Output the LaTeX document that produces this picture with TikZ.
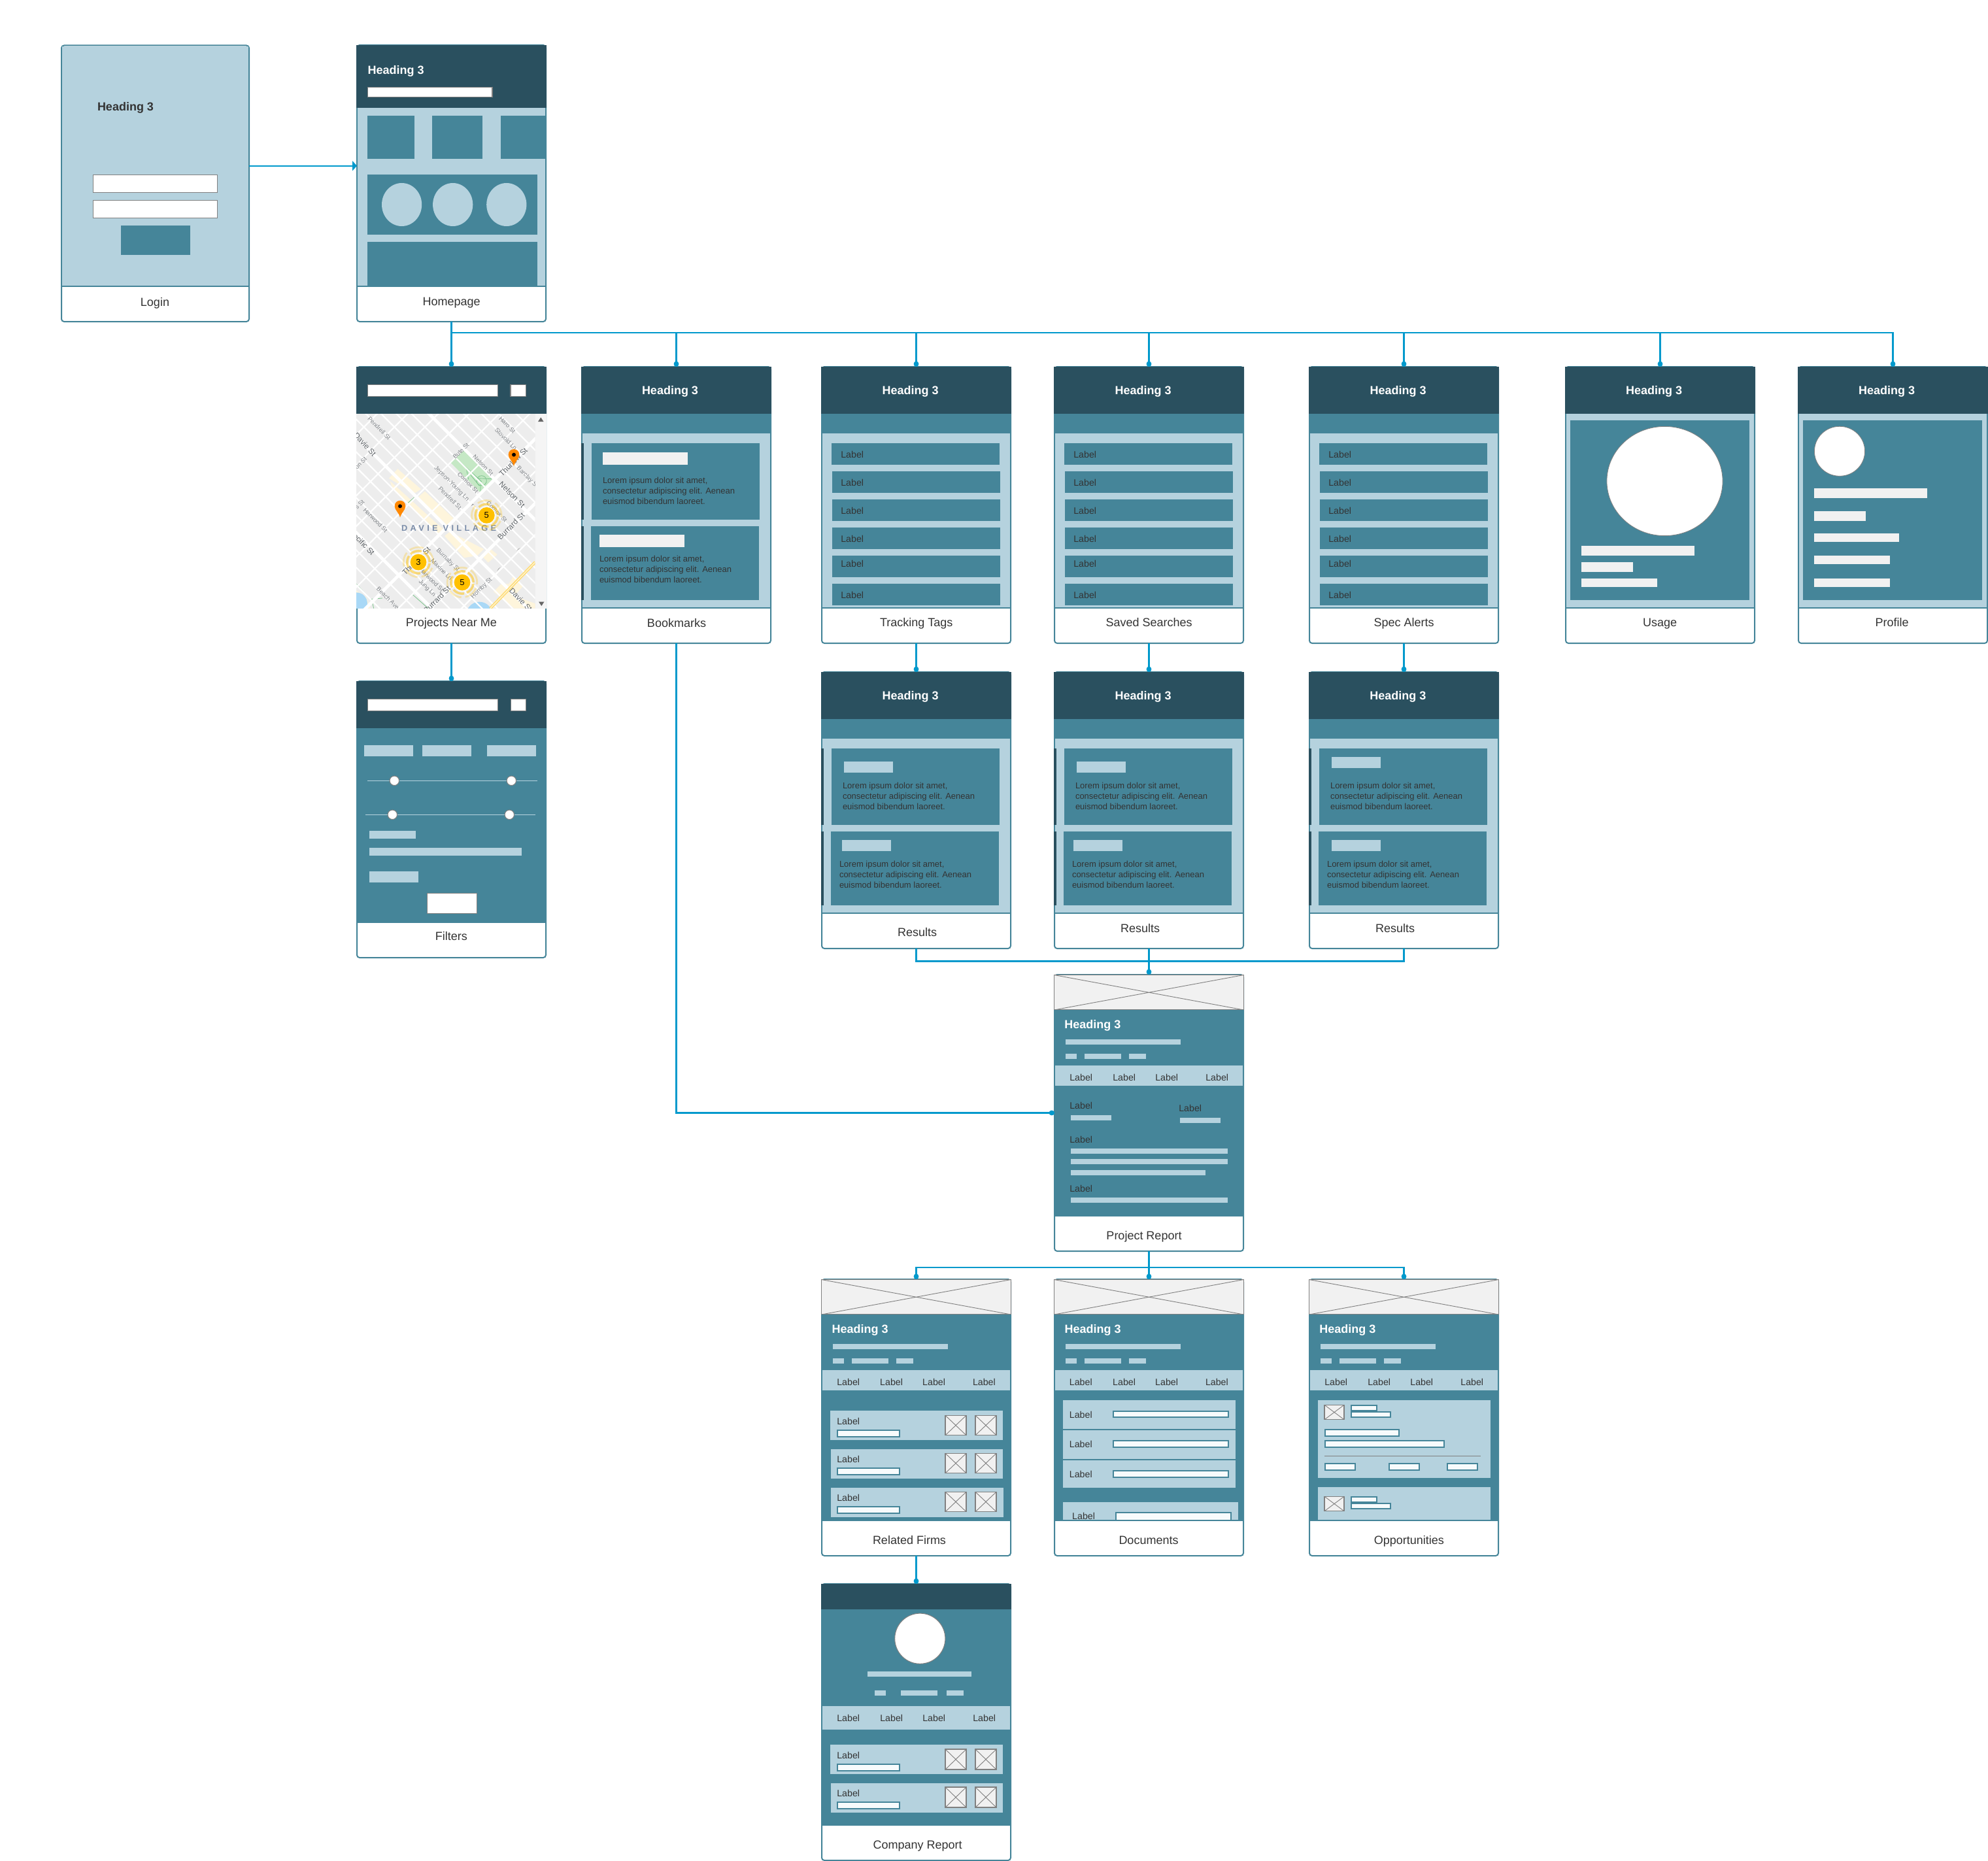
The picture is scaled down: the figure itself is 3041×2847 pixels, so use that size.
\documentclass[tikz,border=0pt]{standalone}
\usepackage{fontspec}
\setmainfont{Liberation Sans}
\newfontfamily\mapcapfont[LetterSpace=34]{Liberation Sans}
\usetikzlibrary{arrows.meta}
\definecolor{cdark}{HTML}{2A505F}
\definecolor{cmid}{HTML}{458599}
\definecolor{clight}{HTML}{B5D2DE}
\definecolor{cbar}{HTML}{F1F1F1}
\definecolor{cfield}{HTML}{F7FBFC}
\definecolor{cgray}{HTML}{808080}
\definecolor{ctext}{HTML}{333333}
\definecolor{cconn}{HTML}{0099CC}
\definecolor{cmapbg}{HTML}{EDEDED}
\definecolor{cyellow}{HTML}{FEF5DC}
\definecolor{cpark}{HTML}{C5E8C5}
\definecolor{cpath}{HTML}{7CC48C}
\definecolor{cwater}{HTML}{A9D8F6}
\definecolor{cpin}{HTML}{FF8800}
\definecolor{ccluster}{HTML}{FFC000}
\definecolor{cstreet}{HTML}{808488}
\definecolor{cstreetd}{HTML}{5F6468}
\definecolor{cvillage}{HTML}{7A8CA8}
\tikzset{
  fdark/.style={fill=cdark,draw=none},
  fmid/.style={fill=cmid,draw=none},
  flight/.style={fill=clight,draw=none},
  fbar/.style={fill=cbar,draw=none},
  fwhite/.style={fill=white,draw=none},
  framebox/.style={draw=cmid,line width=1pt,fill=white,rounded corners=2pt,inner sep=0pt,outer sep=0pt},
  capt/.style={font=\fontsize{9}{11}\selectfont,text=ctext,inner sep=0pt,outer sep=0pt},
  lbl/.style={font=\fontsize{7.1}{8.5}\selectfont,text=ctext,inner sep=0pt,outer sep=0pt},
  hdw/.style={font=\bfseries\fontsize{9}{11}\selectfont,text=white,inner sep=0pt,outer sep=0pt,yshift=-1pt},
  hdd/.style={font=\bfseries\fontsize{9}{11}\selectfont,text=ctext,inner sep=0pt,outer sep=0pt,yshift=-1pt},
  loremtxt/.style={font=\fontsize{6.5}{8}\selectfont,text=ctext,inner sep=0pt,outer sep=0pt,align=left,anchor=west},
  inputbox/.style={fill=white,draw=cgray,line width=0.6pt},
  fieldbox/.style={fill=cfield,draw=cmid,line width=1.1pt},
  imgph/.style={fill=cbar,draw=cgray,line width=0.55pt},
  imgline/.style={draw=cgray,line width=0.45pt},
  slidertrack/.style={draw=clight,line width=0.6pt},
  sliderknob/.style={fill=white,draw=cgray,line width=0.5pt},
  conn/.style={draw=cconn,line width=1.05pt},
  connd/.style={conn,-{Circle[length=4.2pt,width=3.8pt]}},
  conna/.style={conn,-{Triangle[length=3.5pt,width=7.5pt]}},
  minorroad/.style={draw=white,line width=1.1pt},
  majorroad/.style={draw=white,line width=2.4pt},
  st/.style={font=\fontsize{4.6}{5}\selectfont,text=cstreet,inner sep=0pt,outer sep=0pt},
  std/.style={font=\fontsize{5.8}{6}\selectfont,text=cstreetd,inner sep=0pt,outer sep=0pt},
  clnum/.style={font=\fontsize{6.5}{8}\selectfont,text=black,inner sep=0pt,outer sep=0pt},
  pinbody/.style={fill=cpin,draw=none},
}
\newcounter{tnc}
\newcommand{\tn}[4][capt]{\stepcounter{tnc}\node[#1] (t\arabic{tnc}) at (#2,#3) {#4};}
\newcommand{\rbox}[5]{\path[#1] (#2,#3) rectangle (#4,#5);}
\newcommand{\scr}[8]{\pgfmathsetmacro{\scrw}{(#4-#2-2)*0.5}\pgfmathsetmacro{\scrh}{(#5-#3-1)*0.5}%
  \node[framebox,minimum width=\scrw pt,minimum height=\scrh pt] (#1) at ({(#2+#4)/2},{(#3+#5-1)/2}) {};%
  \tn{#6}{#7}{#8}}
\newcommand{\imgx}[4]{\path[imgph] (#1,#2) rectangle (#3,#4);\draw[imgline] (#1,#2) -- (#3,#4) (#1,#4) -- (#3,#2);}
\newcommand{\inp}[4]{\path[inputbox] (#1,#2) rectangle (#3,#4);}
\newcommand{\fld}[4]{\path[fieldbox] (#1+1,#2+1) rectangle (#3-1,#4-1);}
\newcommand{\lorem}[2]{\tn[loremtxt]{#1}{#2}{Lorem ipsum dolor sit amet,\\consectetur adipiscing elit. Aenean\\euismod bibendum laoreet.}}
\newcommand{\tabsrow}[9]{\rbox{flight}{#4}{#1}{#5}{#2}\tn[lbl]{#6}{#3}{Label}\tn[lbl]{#7}{#3}{Label}\tn[lbl]{#8}{#3}{Label}\tn[lbl]{#9}{#3}{Label}}
% list screen, drawn at the Tracking Tags position; shifted by a scope
\newcommand{\listscreen}[4]{%
  \begin{scope}[shift={(#2,0)}]
  \scr{#1}{1256}{561}{1547}{985}{1401.7}{#4}{#3}
  \rbox{fdark}{1256}{561}{1547}{633}
  \rbox{fmid}{1256}{633}{1547}{663}
  \rbox{flight}{1258}{663}{1545}{929}
  \rbox{fmid}{1256}{929}{1547}{931}
  \tn[hdw]{1392.5}{596.7}{Heading 3}
  \rbox{fmid}{1272}{678}{1529}{711}
  \rbox{fmid}{1273}{721}{1530}{754}
  \rbox{fmid}{1273}{764}{1530}{797}
  \rbox{fmid}{1273}{807}{1530}{840}
  \rbox{fmid}{1273}{850}{1530}{883}
  \rbox{fmid}{1273}{893}{1530}{926}
  \tn[lbl]{1303.7}{695.3}{Label}
  \tn[lbl]{1303.7}{738.3}{Label}
  \tn[lbl]{1303.7}{781.3}{Label}
  \tn[lbl]{1303.7}{824.3}{Label}
  \tn[lbl]{1303.7}{862.3}{Label}
  \tn[lbl]{1303.7}{910.3}{Label}
  \end{scope}}
% results screen base
\newcommand{\resbase}[5]{%
  \scr{#1}{#2}{1028}{#2+291}{1452}{#4}{#5}{Results}
  \rbox{fdark}{#2}{1028}{#2+291}{1100}
  \rbox{fmid}{#2}{1100}{#2+291}{1130}
  \rbox{flight}{#2+2}{1130}{#2+289}{1396}
  \rbox{fmid}{#2}{1396}{#2+291}{1398}
  \rbox{fdark}{#2}{1145}{#2+4}{1262}
  \rbox{fdark}{#2}{1272}{#2+4}{1385}
  \tn[hdw]{#3}{1063.7}{Heading 3}}
\begin{document}
\begin{tikzpicture}[x=0.5pt,y=-0.5pt]
\useasboundingbox[fill=white] (0,0) rectangle (3041,2847);

% ---- Login
\scr{login}{93}{69.5}{382}{493}{237}{463.7}{Login}
\rbox{flight}{95}{71.5}{380}{437}
\rbox{fmid}{93}{437}{382}{439}
\tn[hdd,anchor=west]{149}{162.7}{Heading 3}
\inp{142.6}{267.3}{332.5}{294.3}
\inp{142.6}{306.3}{332.5}{333.7}
\rbox{fmid}{185}{345}{291}{390}

% ---- Homepage
\scr{home}{545}{69}{836}{493}{690.6}{463}{Homepage}
\rbox{fdark}{545}{69}{836}{165}
\rbox{flight}{547}{165}{834}{437}
\rbox{fmid}{545}{437}{836}{439}
\tn[hdw,anchor=west]{562.5}{106.7}{Heading 3}
\inp{562.5}{133.3}{753}{148.7}
\rbox{fmid}{562}{177}{634}{243}
\rbox{fmid}{661}{177}{738}{243}
\rbox{fmid}{766}{177}{834.5}{243}
\rbox{fmid}{562}{267}{822}{359}
\fill[clight] (614.6,313) ellipse [x radius=15.3pt,y radius=16.5pt];
\fill[clight] (692.7,313) ellipse [x radius=15.3pt,y radius=16.5pt];
\fill[clight] (774.8,313) ellipse [x radius=15.3pt,y radius=16.5pt];
\rbox{fmid}{562}{370}{822}{437}

% ---- Projects Near Me
\scr{projects}{545}{561}{836}{985}{690.5}{953.7}{Projects Near Me}
\rbox{fdark}{545}{561}{836}{633}
\inp{562.5}{588.3}{761.6}{606.7}
\inp{781}{588.3}{804.5}{606.7}
\rbox{fill=cmapbg,draw=none}{545}{633}{819}{931}
\rbox{fill=white!96!black,draw=none}{819}{633}{836}{931}
\fill[black!60] (823,645) -- (831.5,645) -- (827.3,638.5) -- cycle;
\fill[black!60] (824,920.5) -- (832.5,920.5) -- (828.3,927) -- cycle;
\begin{scope}[shift={(540,630)},x=0.16667pt,y=-0.16667pt]
  \clip (15,10) rectangle (836,902);
  \fill[cyellow] (165,305) -- (205,262) -- (312,355) -- (285,372) -- (240,350) -- cycle;
  \fill[cyellow] (330,365) -- (462,490) -- (430,520) -- (300,390) -- cycle;
  \fill[cyellow] (170,318) -- (200,345) -- (415,540) -- (395,560) -- (180,350) -- cycle;
  \fill[cyellow] (420,570) -- (445,550) -- (600,630) -- (570,660) -- (510,670) -- cycle;
  \fill[cyellow] (595,665) -- (635,632) -- (662,655) -- (620,692) -- cycle;
  \fill[cyellow] (645,825) -- (680,790) -- (715,790) -- (735,755) -- (780,800) -- (740,845) -- (836,880) -- (836,902) -- (740,902) -- cycle;
  \fill[cyellow] (15,820) -- (60,850) -- (80,902) -- (15,902) -- cycle;
  \fill[cwater] (15,880) circle[radius=8.5pt];
  \fill[cwater] (580,932) circle[radius=10pt];
  \fill[cpark] (510,175) -- (648,305) -- (585,372) -- (445,230) -- cycle;
  \draw[cpath,line width=0.4pt] (475,215) -- (590,320) (520,260) -- (530,310) (540,290) -- (580,340) (570,305) -- (640,308) (585,320) -- (585,370);
  \draw[cpath,line width=0.4pt] (590,316) circle[radius=3.8pt];
  \draw[cpath,line width=0.4pt] (15,790) -- (80,860) -- (135,855) (85,860) -- (95,902) (275,840) -- (345,902) (250,420) -- (282,392);
  \foreach \c in {-740,-660,-580,-500,-420,-260,-190,-120,-50,20,170,240,310,380,460,620,700,780}
    {\draw[minorroad] ({0},{\c}) -- ({1000},{\c+1000});}
  \foreach \c in {120,260,400,540,680,820,1110,1400}
    {\draw[minorroad] ({0},{\c}) -- ({\c},{0});}
  \foreach \c in {-340,100,540}
    {\draw[majorroad] ({0},{\c}) -- ({1000},{\c+1000});}
  \foreach \c in {960,1256}
    {\draw[majorroad] ({0},{\c}) -- ({\c},{0});}
  \draw[draw=ccluster!55!white,line width=2.2pt] (836,690) -- (630,902);
  \draw[draw=cyellow,line width=0.6pt] (836,690) -- (630,902);
  \tn[st,rotate=-45]{120}{75}{Pendrell St}
  \tn[std,rotate=-48]{55}{150}{Davie St}
  \tn[st,rotate=45]{495}{180}{Bute St}
  \tn[st,rotate=-45]{708}{60}{Haro St}
  \tn[st,rotate=-45]{702}{125}{Stovold Ln}
  \tn[st,rotate=-45]{597}{245}{Nelson St}
  \tn[std,rotate=45]{735}{230}{Thurlow St}
  \tn[st,rotate=-45]{800}{300}{Barclay St}
  \tn[st,rotate=-45]{527}{325}{Comox St}
  \tn[st,rotate=-45]{452}{330}{Jepson-Young Ln}
  \tn[st,rotate=-45]{445}{395}{Pendrell St}
  \tn[std,rotate=-45]{730}{380}{Nelson St}
  \tn[st,rotate=-45]{660}{458}{Comox St}
  \tn[std,rotate=45]{725}{525}{Burrard St}
  \tn[st,rotate=-45]{103}{497}{Harwood St}
  \tn[std,rotate=-45]{42}{600}{Pacific St}
  \tn[st,rotate=-45]{435}{680}{Burnaby St}
  \tn[st,rotate=-45]{407}{723}{Maxine Ln}
  \tn[st,rotate=-45]{360}{770}{Harwood St}
  \tn[st,rotate=-45]{340}{810}{Jung Ln}
  \tn[std,rotate=45]{290}{685}{Thurlow St}
  \tn[st,rotate=-45]{160}{855}{Beach Ave}
  \tn[std,rotate=45]{385}{862}{Burrard St}
  \tn[st,rotate=45]{590}{810}{Hornby St}
  \tn[std,rotate=-45]{770}{862}{Davie St}
  \tn[st,rotate=45]{35}{235}{on St}
  \tn[st,rotate=45]{30}{425}{s St}
  \tn[font=\mapcapfont\bfseries\fontsize{6.4}{8}\selectfont,text=cvillage,inner sep=0pt,outer sep=0pt]{440}{533}{DAVIE VILLAGE}
  \fill[black!35] (548,422) -- (542,432) -- (556,426) -- cycle;
  \fill[black!35] (757,630) -- (750,640) -- (768,624) -- cycle;
  \fill[black!35] (667,720) -- (660,732) -- (678,712) -- cycle;
  % clusters
  \foreach \cx/\cy/\nn in {613/475/5,300/690/3,501/783/5}{
    \begin{scope}[shift={(\cx,\cy)}]
    \draw[ccluster,opacity=.5,line width=1.7pt,dash pattern=on 9pt off 2pt] (0,0) circle[radius=8.6pt];
    \draw[ccluster,opacity=.25,line width=1.4pt,dash pattern=on 11pt off 3pt] (0,0) circle[radius=11.4pt];
    \fill[white] (0,0) circle[radius=6.8pt];
    \fill[ccluster] (0,0) circle[radius=6.2pt];
    \tn[clnum]{0}{0}{\nn}
    \end{scope}}
  % pins
  \foreach \px/\py in {738/197,216/433}{
    \begin{scope}[shift={(\px,\py)}]
    \path[pinbody] (0,52) .. controls (-6,28) and (-25,18) .. (-25,0) .. controls (-25,-34) and (25,-34) .. (25,0) .. controls (25,18) and (6,28) .. (0,52) -- cycle;
    \fill[black] (0,0) circle[radius=1.5pt];
    \end{scope}}
\end{scope}

% ---- Bookmarks
\scr{book}{889}{561}{1180}{985}{1035}{952.7}{Bookmarks}
\rbox{fdark}{889}{561}{1180}{633}
\rbox{fmid}{889}{633}{1180}{663}
\rbox{flight}{891}{663}{1178}{929}
\rbox{fmid}{889}{929}{1180}{931}
\rbox{fdark}{889}{678}{893}{795}
\rbox{fdark}{889}{805}{893}{918}
\tn[hdw]{1025}{596.7}{Heading 3}
\rbox{fmid}{905}{678}{1162}{795}
\rbox{fmid}{904}{805}{1161}{918}
\rbox{fbar}{922}{692}{1052}{711}
\rbox{fbar}{917}{818}{1047}{837}
\lorem{922}{751.3}
\lorem{917}{871.3}

% ---- list screens
\listscreen{track}{0}{Tracking Tags}{953.7}
\listscreen{saved}{356}{Saved Searches}{951.7}
\listscreen{spec}{746}{Spec Alerts}{953.7}

% ---- Usage
\scr{usage}{2394}{561}{2685}{985}{2539}{953.7}{Usage}
\rbox{fdark}{2394}{561}{2685}{633}
\rbox{flight}{2396}{633}{2683}{929}
\rbox{fmid}{2394}{929}{2685}{931}
\tn[hdw]{2530}{596.7}{Heading 3}
\rbox{fmid}{2402}{643}{2676}{918}
\path[fill=white,draw=cgray,line width=0.4pt] (2546.5,736) ellipse [x radius=44.3pt,y radius=41.8pt];
\rbox{fbar}{2419}{835}{2592}{850}
\rbox{fbar}{2419}{860}{2498}{875}
\rbox{fbar}{2419}{885}{2535}{898}

% ---- Profile
\scr{profile}{2750}{561}{3041}{985}{2894}{951.7}{Profile}
\rbox{fdark}{2750}{561}{3041}{633}
\rbox{flight}{2752}{633}{3039}{929}
\rbox{fmid}{2750}{929}{3041}{931}
\tn[hdw]{2886}{596.7}{Heading 3}
\rbox{fmid}{2758}{643}{3032}{918}
\path[fill=white,draw=cgray,line width=0.4pt] (2814,690.3) ellipse [x radius=19.3pt,y radius=19pt];
\rbox{fbar}{2775}{747}{2948}{762}
\rbox{fbar}{2775}{782}{2854}{797}
\rbox{fbar}{2775}{816}{2905}{829}
\rbox{fbar}{2775}{850}{2891}{863}
\rbox{fbar}{2775}{885}{2891}{898}

% ---- Filters
\scr{filters}{545}{1042}{836}{1466}{690.3}{1432.3}{Filters}
\rbox{fdark}{545}{1042}{836}{1114}
\rbox{fmid}{545}{1114}{836}{1412}
\inp{562.3}{1069.3}{761.7}{1087.7}
\inp{781.3}{1069.3}{804.7}{1087.7}
\rbox{flight}{557}{1140}{632}{1157}
\rbox{flight}{646}{1140}{721}{1157}
\rbox{flight}{745}{1140}{820}{1157}
\draw[slidertrack] (562,1194.3) -- (822,1194.3);
\draw[slidertrack] (559,1246.3) -- (819,1246.3);
\path[sliderknob] (603.3,1194.3) circle[radius=3.6pt];
\path[sliderknob] (782.3,1194.3) circle[radius=3.6pt];
\path[sliderknob] (600.3,1246.3) circle[radius=3.6pt];
\path[sliderknob] (779.3,1246.3) circle[radius=3.6pt];
\rbox{flight}{565}{1271}{636}{1283}
\rbox{flight}{565}{1297}{798}{1309}
\rbox{flight}{565}{1333}{640}{1350}
\inp{653.7}{1366.3}{729.3}{1397.3}

% ---- Results
\resbase{res1}{1256}{1392.6}{1403}{1425.7}
\rbox{fmid}{1272}{1145}{1529}{1262}
\rbox{fmid}{1271}{1272}{1528}{1385}
\rbox{flight}{1291}{1165}{1366}{1182}
\rbox{flight}{1288}{1285}{1363}{1302}
\lorem{1289}{1218.3}
\lorem{1284}{1338.3}

\resbase{res2}{1612}{1748.6}{1744}{1419.7}
\rbox{fmid}{1628}{1145}{1885}{1262}
\rbox{fmid}{1627}{1272}{1884}{1385}
\rbox{flight}{1647}{1165}{1722}{1182}
\rbox{flight}{1642}{1285}{1717}{1302}
\lorem{1645}{1218.3}
\lorem{1640}{1338.3}

\resbase{res3}{2002}{2138.3}{2134}{1419.7}
\rbox{fmid}{2018}{1145}{2275}{1262}
\rbox{fmid}{2017}{1272}{2274}{1385}
\rbox{flight}{2037}{1158}{2112}{1175}
\rbox{flight}{2037}{1285}{2112}{1302}
\lorem{2035}{1218.3}
\lorem{2030}{1338.3}

% ---- Project Report
\scr{report}{1612}{1491}{1903}{1915}{1750}{1891.7}{Project Report}
\imgx{1612.5}{1491.5}{1902.5}{1545}
\rbox{fmid}{1612}{1545}{1903}{1861}
\tn[hdw,anchor=west]{1628.3}{1566.7}{Heading 3}
\rbox{flight}{1630}{1590}{1806}{1598}
\rbox{flight}{1630}{1612}{1647}{1620}
\rbox{flight}{1659}{1612}{1715}{1620}
\rbox{flight}{1727}{1612}{1753}{1620}
\tabsrow{1630}{1661}{1648.3}{1614}{1901}{1653.7}{1719.7}{1784.7}{1861.7}
\tn[lbl]{1653.7}{1691.3}{Label}
\rbox{flight}{1638}{1706}{1700}{1714}
\tn[lbl]{1820.7}{1695.3}{Label}
\rbox{flight}{1805}{1710}{1867}{1718}
\tn[lbl]{1653.7}{1743.3}{Label}
\rbox{flight}{1638}{1757}{1878}{1765}
\rbox{flight}{1638}{1773}{1878}{1781}
\rbox{flight}{1638}{1790}{1844}{1798}
\tn[lbl]{1653.7}{1818.3}{Label}
\rbox{flight}{1638}{1832}{1878}{1840}

% ---- Related Firms
\scr{firms}{1256}{1957}{1547}{2381}{1391}{2356}{Related Firms}
\imgx{1256.5}{1957.5}{1546.5}{2011}
\rbox{fmid}{1256}{2011}{1547}{2327}
\tn[hdw,anchor=west]{1272.5}{2032.7}{Heading 3}
\rbox{flight}{1274}{2056}{1450}{2064}
\rbox{flight}{1274}{2078}{1291}{2086}
\rbox{flight}{1303}{2078}{1359}{2086}
\rbox{flight}{1371}{2078}{1397}{2086}
\tabsrow{2096}{2127}{2114.3}{1258}{1545}{1297.7}{1363.6}{1428.6}{1505.4}
\rbox{flight}{1270}{2158}{1534}{2203}
\rbox{flight}{1271}{2217}{1534}{2262}
\rbox{flight}{1271}{2276}{1535}{2321}
\tn[lbl]{1297.7}{2174.3}{Label}
\tn[lbl]{1297.7}{2232.3}{Label}
\tn[lbl]{1297.7}{2291.3}{Label}
\fld{1280}{2187.3}{1377}{2198.7}
\fld{1280}{2245.3}{1377}{2256.7}
\fld{1280}{2304.3}{1377}{2315.7}
\imgx{1446}{2165.3}{1478}{2195.7}
\imgx{1492}{2165.3}{1524}{2195.7}
\imgx{1446}{2223.3}{1478}{2253.7}
\imgx{1492}{2223.3}{1524}{2253.7}
\imgx{1446}{2282.3}{1478}{2312.7}
\imgx{1492}{2282.3}{1524}{2312.7}

% ---- Documents
\scr{docs}{1612}{1957}{1903}{2381}{1757}{2356}{Documents}
\imgx{1612.5}{1957.5}{1902.5}{2011}
\rbox{fmid}{1612}{2011}{1903}{2327}
\tn[hdw,anchor=west]{1628.5}{2032.7}{Heading 3}
\rbox{flight}{1630}{2056}{1806}{2064}
\rbox{flight}{1630}{2078}{1647}{2086}
\rbox{flight}{1659}{2078}{1715}{2086}
\rbox{flight}{1727}{2078}{1753}{2086}
\tabsrow{2096}{2127}{2114.3}{1614}{1901}{1653.3}{1719.6}{1784.6}{1861.4}
\rbox{flight}{1626}{2142}{1890}{2186}
\rbox{flight}{1626}{2188}{1890}{2232}
\rbox{flight}{1626}{2234}{1890}{2276}
\rbox{flight}{1626}{2298}{1894}{2325}
\tn[lbl]{1653.3}{2164.3}{Label}
\tn[lbl]{1653.3}{2209.3}{Label}
\tn[lbl]{1653.3}{2255.3}{Label}
\tn[lbl]{1657.6}{2319.3}{Label}
\fld{1702}{2158}{1880}{2169.3}
\fld{1702}{2203.3}{1880}{2214.7}
\fld{1702}{2249.3}{1880}{2260.7}
\path[fill=cfield,draw=cmid,line width=1.1pt] (1707,2325) -- (1707,2314) -- (1883,2314) -- (1883,2325);
\rbox{fmid}{1626}{2325}{1894}{2327}

% ---- Opportunities
\scr{opp}{2002}{1957}{2293}{2381}{2155.3}{2358}{Opportunities}
\imgx{2002.5}{1957.5}{2292.5}{2011}
\rbox{fmid}{2002}{2011}{2293}{2327}
\tn[hdw,anchor=west]{2018.3}{2032.7}{Heading 3}
\rbox{flight}{2020}{2056}{2196}{2064}
\rbox{flight}{2020}{2078}{2037}{2086}
\rbox{flight}{2049}{2078}{2105}{2086}
\rbox{flight}{2117}{2078}{2143}{2086}
\tabsrow{2096}{2127}{2114.3}{2004}{2291}{2043.7}{2109.7}{2174.7}{2251.7}
\rbox{flight}{2016}{2142}{2280}{2261}
\rbox{flight}{2016}{2275}{2280}{2325}
\imgx{2026}{2149.3}{2056}{2171.7}
\fld{2066}{2149}{2107}{2159}
\fld{2066}{2159}{2128}{2169}
\fld{2026}{2186.3}{2141}{2197.7}
\fld{2026}{2203.3}{2210}{2214.7}
\draw[imgline] (2026,2227.3) -- (2265,2227.3);
\fld{2026}{2238}{2074}{2250}
\fld{2124}{2238}{2172}{2250}
\fld{2213}{2238}{2261}{2250}
\imgx{2026}{2289.3}{2056}{2311.7}
\fld{2066}{2289}{2107}{2299}
\fld{2066}{2299}{2128}{2309}

% ---- Company Report
\scr{company}{1256}{2423}{1547}{2847}{1403.7}{2823.7}{Company Report}
\rbox{fdark}{1256}{2423}{1547}{2462}
\rbox{fmid}{1256}{2462}{1547}{2793}
\path[fill=white,draw=cgray,line width=0.5pt] (1407.3,2506.7) circle[radius=19.3pt];
\rbox{flight}{1327}{2557}{1486}{2565}
\rbox{flight}{1338}{2586}{1355}{2594}
\rbox{flight}{1378}{2586}{1434}{2594}
\rbox{flight}{1448}{2586}{1474}{2594}
\tabsrow{2610}{2646}{2628.3}{1258}{1545}{1297.7}{1363.7}{1428.7}{1505.7}
\rbox{flight}{1270}{2669}{1534}{2714}
\rbox{flight}{1271}{2728}{1534}{2773}
\tn[lbl]{1297.7}{2685.3}{Label}
\tn[lbl]{1297.7}{2743.3}{Label}
\fld{1280}{2698}{1377}{2710}
\fld{1280}{2756}{1377}{2768}
\imgx{1446}{2676}{1478}{2707}
\imgx{1492}{2676}{1524}{2707}
\imgx{1446}{2734}{1478}{2765}
\imgx{1492}{2734}{1524}{2765}

% ---- connectors
\coordinate (loginy) at (0,253.7);
\coordinate (topbus) at (0,509.3);
\coordinate (resbus) at (0,1470.5);
\coordinate (repbus) at (0,1939.3);
\draw[conna] (login.east |- loginy) -- (home.west |- loginy);
\draw[connd] (home.south) -- (projects.north);
\draw[connd] (home.south |- topbus) -| (book.north);
\draw[connd] (home.south |- topbus) -| (track.north);
\draw[connd] (home.south |- topbus) -| (saved.north);
\draw[connd] (home.south |- topbus) -| (spec.north);
\draw[connd] (home.south |- topbus) -| (usage.north);
\draw[connd] (home.south |- topbus) -| (profile.north);
\draw[connd] (projects.south) -- (filters.north);
\draw[connd] (book.south) |- (report.west);
\draw[connd] (track.south) -- (res1.north);
\draw[connd] (saved.south) -- (res2.north);
\draw[connd] (spec.south) -- (res3.north);
\draw[conn] (res1.south) |- (res2.south |- resbus);
\draw[conn] (res3.south) |- (res2.south |- resbus);
\draw[connd] (res2.south) -- (report.north);
\draw[connd] (report.south) -- (docs.north);
\draw[connd] (report.south |- repbus) -| (firms.north);
\draw[connd] (report.south |- repbus) -| (opp.north);
\draw[connd] (firms.south) -- (company.north);
\end{tikzpicture}
\end{document}
